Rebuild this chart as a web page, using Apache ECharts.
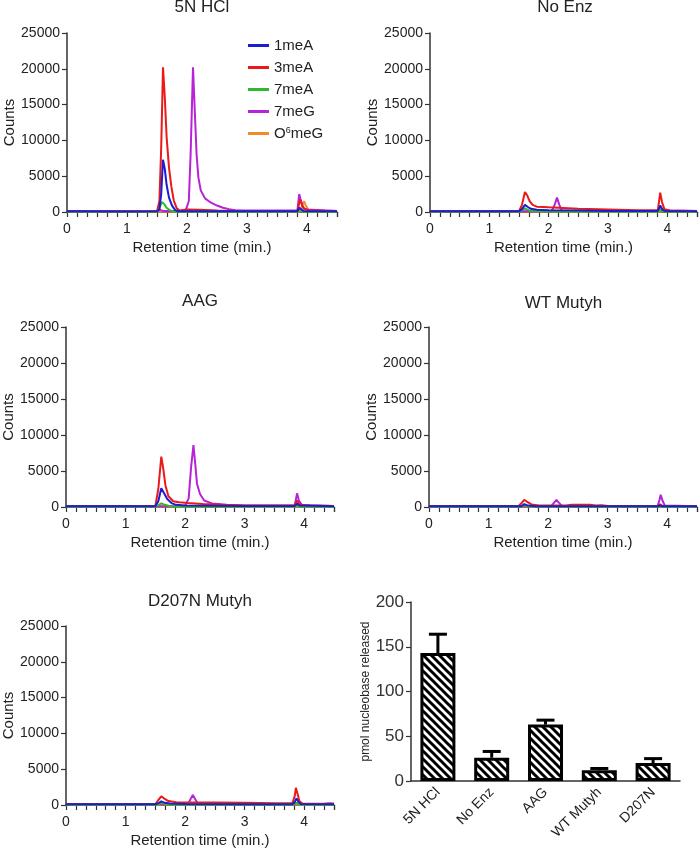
<!DOCTYPE html>
<html><head><meta charset="utf-8">
<script src="https://cdn.jsdelivr.net/npm/echarts@6/dist/echarts.min.js"></script>
<style>html,body{margin:0;padding:0;background:#fff}#c{width:700px;height:849px}</style>
</head><body><div id="c"></div>
<script>
// ---------- DATA ----------
const seriesNames = ['1meA', '3meA', '7meA', '7meG', 'O6meG'];
const panelTitles = ['5N HCl', 'No Enz', 'AAG', 'WT Mutyh', 'D207N Mutyh'];
const xTickValues = [0, 1, 2, 3, 4];
const yTickValues = [0, 5000, 10000, 15000, 20000, 25000];

// 5N HCl panel
const hcl_1meA = [[0,100],[1.0,80],[1.5,100],[1.54,400],[1.57,2500],[1.6,7300],[1.63,6000],[1.66,3800],[1.7,2000],[1.75,900],[1.8,300],[1.85,100],[3.0,100],[3.84,100],[3.87,600],[3.9,500],[3.94,150],[4.5,100]];
const hcl_3meA = [[0,100],[1.5,100],[1.54,1500],[1.57,9000],[1.6,20200],[1.63,16000],[1.66,10500],[1.7,6200],[1.74,3500],[1.78,1600],[1.83,500],[1.88,200],[2.0,350],[2.2,300],[2.5,200],[3.0,150],[3.84,150],[3.87,1200],[3.89,1700],[3.92,900],[3.96,400],[4.05,250],[4.5,150]];
const hcl_7meA = [[0,50],[1.5,50],[1.54,500],[1.58,1400],[1.62,1100],[1.66,600],[1.72,200],[1.8,50],[3.84,50],[3.88,300],[3.92,80],[4.5,50]];
const hcl_7meG = [[0,100],[1.5,100],[1.55,300],[1.6,150],[1.9,150],[1.98,300],[2.03,1500],[2.06,8000],[2.1,20200],[2.13,14000],[2.16,8000],[2.19,4800],[2.23,3000],[2.3,1900],[2.4,1300],[2.5,900],[2.6,600],[2.7,400],[2.8,250],[3.0,200],[3.84,200],[3.87,2500],[3.9,1500],[3.94,500],[4.0,350],[4.3,200],[4.5,150]];
const hcl_O6meG = [[0,80],[3.88,80],[3.92,900],[3.95,1500],[3.98,900],[4.02,300],[4.1,150],[4.5,100]];

// No Enz panel
const noenz_1meA = [[0,100],[1.5,100],[1.55,400],[1.6,1000],[1.65,700],[1.7,450],[1.8,300],[2.0,250],[2.5,200],[3.0,150],[3.84,150],[3.88,900],[3.92,300],[3.96,150],[4.5,100]];
const noenz_3meA = [[0,100],[1.5,100],[1.55,1000],[1.6,2800],[1.64,2300],[1.68,1500],[1.73,1000],[1.8,750],[2.0,650],[2.5,450],[3.0,350],[3.5,250],[3.84,250],[3.88,2700],[3.91,1400],[3.95,400],[4.05,200],[4.5,150]];
const noenz_7meA = [[0,50],[1.5,50],[1.56,300],[1.6,500],[1.66,250],[1.75,100],[2.0,60],[3.84,50],[3.88,300],[3.92,60],[4.5,50]];
const noenz_7meG = [[0,100],[2.05,100],[2.1,1000],[2.14,2000],[2.18,1000],[2.22,200],[2.4,150],[3.84,150],[3.88,400],[3.92,200],[4.5,150]];
const noenz_O6meG = [[0,80],[3.9,80],[3.95,250],[4.0,100],[4.5,80]];

// AAG panel
const aag_1meA = [[0,100],[1.5,100],[1.55,800],[1.6,2600],[1.64,2000],[1.7,1100],[1.78,500],[1.85,300],[2.0,200],[3.0,150],[3.84,150],[3.88,450],[3.92,200],[4.5,100]];
const aag_3meA = [[0,100],[1.5,100],[1.55,2500],[1.6,7000],[1.63,5500],[1.67,3000],[1.72,1500],[1.8,800],[1.9,650],[2.05,550],[2.3,400],[2.6,300],[3.0,200],[3.84,200],[3.88,900],[3.92,400],[4.0,200],[4.5,150]];
const aag_7meA = [[0,50],[1.5,50],[1.56,300],[1.6,500],[1.66,300],[1.75,100],[2.0,50],[3.84,50],[3.88,200],[3.92,50],[4.5,50]];
const aag_7meG = [[0,100],[1.5,100],[2.0,150],[2.06,1200],[2.1,5500],[2.14,8600],[2.17,6000],[2.2,3200],[2.25,1800],[2.32,900],[2.45,500],[2.7,300],[3.0,200],[3.84,200],[3.88,1900],[3.91,900],[3.96,300],[4.1,250],[4.5,150]];
const aag_O6meG = [[0,80],[4.5,80]];

// WT Mutyh panel
const wt_1meA = [[0,100],[1.55,100],[1.6,400],[1.66,200],[1.8,120],[3.84,100],[3.88,200],[3.92,100],[4.5,100]];
const wt_3meA = [[0,100],[1.5,100],[1.56,600],[1.6,1000],[1.65,700],[1.72,350],[1.85,200],[2.3,200],[2.4,300],[2.7,300],[2.8,200],[2.9,250],[3.0,150],[3.84,150],[3.88,350],[3.92,150],[4.5,100]];
const wt_7meA = [[0,50],[1.55,50],[1.6,250],[1.68,80],[4.5,50]];
const wt_7meG = [[0,100],[2.05,100],[2.1,600],[2.14,1000],[2.18,600],[2.23,150],[3.84,150],[3.87,1000],[3.89,1700],[3.92,900],[3.96,200],[4.5,120]];
const wt_O6meG = [[0,80],[4.5,80]];

// D207N Mutyh panel
const d207n_1meA = [[0,100],[1.5,100],[1.56,300],[1.6,500],[1.66,300],[1.75,200],[2.0,150],[3.0,120],[3.8,120],[3.84,400],[3.87,900],[3.9,500],[3.94,150],[4.5,100]];
const d207n_3meA = [[0,100],[1.5,100],[1.55,700],[1.6,1200],[1.65,900],[1.72,550],[1.85,400],[2.0,350],[2.5,350],[3.0,300],[3.5,250],[3.8,250],[3.84,1200],[3.86,2400],[3.89,1500],[3.92,500],[3.97,200],[4.5,150]];
const d207n_7meA = [[0,50],[1.55,50],[1.6,300],[1.68,100],[1.8,50],[3.82,50],[3.87,300],[3.92,50],[4.5,50]];
const d207n_7meG = [[0,100],[2.05,100],[2.09,800],[2.13,1400],[2.17,800],[2.22,150],[3.84,150],[3.88,300],[3.93,150],[4.3,150],[4.42,250],[4.5,200]];
const d207n_O6meG = [[0,80],[4.5,80]];

// Bar chart
const barCategories = ['5N HCl', 'No Enz', 'AAG', 'WT Mutyh', 'D207N'];
const barValues = [143, 26, 63, 12, 20];
const barErrors = [21, 7, 5, 2, 5];
const barTicks = [0, 50, 100, 150, 200];

// ---------- STYLE / LAYOUT ----------
const panels = [
  {title: panelTitles[0], data: [hcl_1meA, hcl_3meA, hcl_7meA, hcl_7meG, hcl_O6meG]},
  {title: panelTitles[1], data: [noenz_1meA, noenz_3meA, noenz_7meA, noenz_7meG, noenz_O6meG]},
  {title: panelTitles[2], data: [aag_1meA, aag_3meA, aag_7meA, aag_7meG, aag_O6meG]},
  {title: panelTitles[3], data: [wt_1meA, wt_3meA, wt_7meA, wt_7meG, wt_O6meG]},
  {title: panelTitles[4], data: [d207n_1meA, d207n_3meA, d207n_7meA, d207n_7meG, d207n_O6meG]}
];
const colors = {'1meA':'#1c1cd2', '3meA':'#ea1a1a', '7meA':'#2eb82e', '7meG':'#b723d6', 'O6meG':'#f28c28'};
const drawOrder = [4, 3, 1, 2, 0]; // O6meG, 7meG, 3meA, 7meA, 1meA (blue on top)
const grids = [
  {left:67, top:33, width:270, height:179},
  {left:430, top:33, width:270, height:179},
  {left:66, top:327, width:268, height:180},
  {left:429, top:327, width:269, height:180},
  {left:66, top:626, width:268, height:180},
  {left:411, top:602, width:269, height:179}
];
const titleY = [-1, -1, 293, 295, 593];
const FONT = '"Liberation Sans", Arial, sans-serif';
const AX = '#333';

// hatch pattern
const pc = document.createElement('canvas');
const S = 8; pc.width = S; pc.height = S;
const ctx = pc.getContext('2d');
ctx.fillStyle = '#fff'; ctx.fillRect(0,0,S,S);
ctx.strokeStyle = '#000'; ctx.lineWidth = 3; ctx.lineCap = 'square';
for (let k = -1; k <= 1; k++) { ctx.beginPath(); ctx.moveTo(k*S, 0); ctx.lineTo(k*S + S, S); ctx.stroke(); }

const option = {
  animation: false,
  textStyle: {fontFamily: FONT},
  title: panels.map((p, i) => ({
    text: p.title, left: grids[i].left + grids[i].width/2, top: titleY[i], textAlign: 'center', padding: 0,
    textStyle: {fontSize: 17, fontWeight: 'normal', color: '#222', fontFamily: FONT}
  })),
  legend: {
    data: seriesNames, orient: 'vertical', left: 243, top: 33, icon: 'rect', itemWidth: 21, itemHeight: 3, itemGap: 7,
    textStyle: {fontSize: 15, color: '#222', lineHeight: 14, fontFamily: FONT, rich: {sup: {fontSize: 9, verticalAlign: 'top', lineHeight: 14, fontFamily: FONT}}},
    formatter: n => n === 'O6meG' ? 'O{sup|6}meG' : n
  },
  grid: grids,
  xAxis: [],
  yAxis: [],
  series: []
};

for (let i = 0; i < 5; i++) {
  option.xAxis.push({
    type: 'value', gridIndex: i, min: 0, max: 4.5, interval: 1/6,
    axisLine: {show: true, onZero: false, lineStyle: {color: AX, width: 1.5}},
    axisTick: {show: true, length: 5, lineStyle: {color: AX, width: 1.2}},
    splitLine: {show: false},
    axisLabel: {fontSize: 14, color: '#222', margin: 10,
      formatter: v => { const r = Math.round(v); return (Math.abs(v - r) < 0.01 && xTickValues.includes(r)) ? String(r) : ''; }},
    name: 'Retention time (min.)', nameLocation: 'middle', nameGap: 28,
    nameTextStyle: {fontSize: 15, color: '#222'}
  });
  option.yAxis.push({
    type: 'value', gridIndex: i, min: yTickValues[0], max: yTickValues[yTickValues.length-1], interval: 5000,
    axisLine: {show: true, lineStyle: {color: AX, width: 1.5}},
    axisTick: {show: true, length: 5, lineStyle: {color: AX, width: 1.2}},
    splitLine: {show: false},
    axisLabel: {fontSize: 14, color: '#222', margin: 7, formatter: v => String(v)},
    name: 'Counts', nameLocation: 'middle', nameGap: 50, nameRotate: 90,
    nameTextStyle: {fontSize: 15, color: '#222'}
  });
  drawOrder.forEach(si => {
    const nm = seriesNames[si];
    option.series.push({
      type: 'line', name: nm, xAxisIndex: i, yAxisIndex: i, data: panels[i].data[si],
      showSymbol: false, symbol: 'none', smooth: false, clip: true,
      lineStyle: {color: colors[nm], width: 2}, itemStyle: {color: colors[nm]}
    });
  });
}

// bar chart axes
option.xAxis.push({
  type: 'category', gridIndex: 5, data: barCategories,
  axisLine: {show: true, lineStyle: {color: AX, width: 1.5}},
  axisTick: {show: false},
  axisLabel: {fontSize: 14, color: '#222', rotate: 45, margin: 9, interval: 0}
});
option.yAxis.push({
  type: 'value', gridIndex: 5, min: barTicks[0], max: barTicks[barTicks.length-1], interval: 50,
  axisLine: {show: true, lineStyle: {color: AX, width: 1.5}},
  axisTick: {show: true, length: 5, lineStyle: {color: AX, width: 1.2}},
  splitLine: {show: false},
  axisLabel: {fontSize: 17, color: '#333', margin: 7},
  name: 'pmol nucleobase released', nameLocation: 'middle', nameGap: 25, nameRotate: 90,
  nameTextStyle: {fontSize: 12, color: '#222'}
});
option.series.push({
  type: 'bar', xAxisIndex: 5, yAxisIndex: 5, data: barValues, barWidth: 35,
  itemStyle: {color: {image: pc, repeat: 'repeat'}, borderColor: '#000', borderWidth: 3}
});
option.series.push({
  type: 'custom', xAxisIndex: 5, yAxisIndex: 5,
  data: barCategories.map((c, i) => [i, barValues[i], barErrors[i]]),
  encode: {x: 0, y: [1]},
  renderItem: (params, api) => {
    const idx = api.value(0), v = api.value(1), e = api.value(2);
    const p0 = api.coord([idx, v]), p1 = api.coord([idx, v + e]);
    return {type: 'group', children: [
      {type: 'line', shape: {x1: p0[0], y1: p0[1], x2: p1[0], y2: p1[1]}, style: {stroke: '#000', lineWidth: 3}},
      {type: 'line', shape: {x1: p1[0]-9, y1: p1[1], x2: p1[0]+9, y2: p1[1]}, style: {stroke: '#000', lineWidth: 3}}
    ]};
  },
  z: 3
});

const chart = echarts.init(document.getElementById('c'), null, {renderer: 'canvas'});
chart.setOption(option);
</script></body></html>
